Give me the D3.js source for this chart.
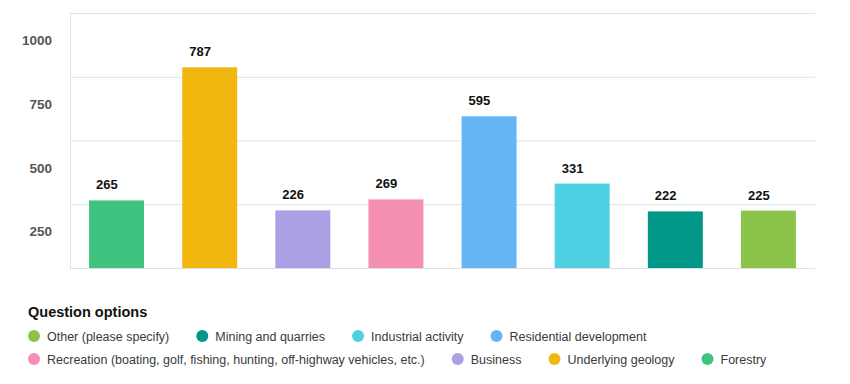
<!DOCTYPE html>
<meta charset="utf-8">
<script src="https://d3js.org/d3.v7.min.js"></script>
<style>
  body { margin: 0; background: #fff; font-family: "Liberation Sans", Arial, sans-serif; }
</style>
<body>
<svg id="chart" width="850" height="384"></svg>
<script>
// data
const categories = ["Forestry", "Underlying geology", "Business", "Recreation (boating, golf, fishing, hunting, off-highway vehicles, etc.)",
  "Residential development", "Industrial activity", "Mining and quarries", "Other (please specify)"];
const values = [265, 787, 226, 269, 595, 331, 222, 225];
const colors = ["#3ec47f", "#f2b70f", "#aaa0e4", "#f48fb1", "#64b5f6", "#4dd0e1", "#009688", "#8bc34a"];
const yTicks = [250, 500, 750, 1000];

// legend order as in the picture
const legendRows = [
  ["Other (please specify)", "Mining and quarries", "Industrial activity", "Residential development"],
  ["Recreation (boating, golf, fishing, hunting, off-highway vehicles, etc.)", "Business", "Underlying geology", "Forestry"]
];

const svg = d3.select("#chart");
const plotLeft = 70, plotRight = 815, plotTop = 13, plotBottom = 268;

const x = d3.scaleBand().domain(categories).range([plotLeft, plotRight]).paddingInner(0.41).paddingOuter(0.205);
const y = d3.scaleLinear().domain([0, 1000]).range([plotBottom, plotTop]);
const color = d3.scaleOrdinal().domain(categories).range(colors);

// grid lines
svg.append("g")
  .selectAll("line")
  .data([0].concat(yTicks))
  .join("line")
    .attr("x1", plotLeft).attr("x2", plotRight)
    .attr("y1", d => y(d) + 0.5).attr("y2", d => y(d) + 0.5)
    .attr("stroke", "#dde2e6").attr("stroke-width", 1);

svg.append("line")
  .attr("x1", plotLeft + 0.5).attr("x2", plotLeft + 0.5)
  .attr("y1", plotTop).attr("y2", plotBottom)
  .attr("stroke", "#dde2e6");

// y labels (sit below their grid lines in the original)
svg.append("g")
  .selectAll("text")
  .data(yTicks)
  .join("text")
    .attr("x", 52)
    .attr("y", d => y(d) + 32)
    .attr("text-anchor", "end")
    .attr("font-size", 13.5)
    .attr("font-weight", "bold")
    .attr("fill", "#555")
    .text(d => d);

// bars
svg.append("g")
  .selectAll("rect")
  .data(values)
  .join("rect")
    .attr("x", (d, i) => x(categories[i]))
    .attr("y", d => y(d))
    .attr("width", x.bandwidth())
    .attr("height", d => plotBottom - y(d))
    .attr("fill", (d, i) => colors[i]);

// value labels
svg.append("g")
  .selectAll("text")
  .data(values)
  .join("text")
    .attr("x", (d, i) => x(categories[i]) + 7)
    .attr("y", d => y(d) - 11)
    .attr("font-size", 13)
    .attr("font-weight", "bold")
    .attr("fill", "#111")
    .text(d => d);

// legend
svg.append("text")
  .attr("x", 28).attr("y", 317)
  .attr("font-size", 14.5)
  .attr("font-weight", "bold")
  .attr("fill", "#111")
  .text("Question options");

const rowY = [336, 359];
legendRows.forEach((row, r) => {
  let cx = 34;
  row.forEach(name => {
    const g = svg.append("g");
    g.append("circle")
      .attr("cx", cx).attr("cy", rowY[r])
      .attr("r", 6)
      .attr("fill", color(name));
    const t = g.append("text")
      .attr("x", cx + 13).attr("y", rowY[r] + 4.5)
      .attr("font-size", 12.5)
      .attr("fill", "#3a3a3a")
      .text(name);
    const w = t.node().getComputedTextLength();
    cx += 13 + w + 33;
  });
});
</script>
</body>
